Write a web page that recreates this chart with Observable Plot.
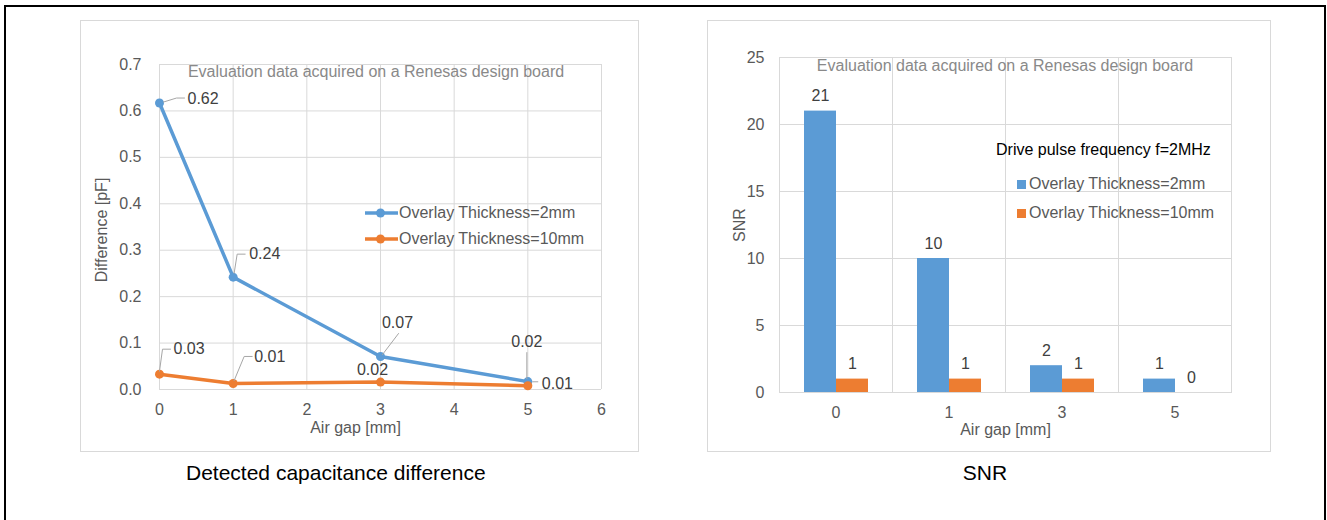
<!DOCTYPE html>
<html>
<head>
<meta charset="utf-8">
<script src="https://cdn.jsdelivr.net/npm/d3@7"></script>
<script src="https://cdn.jsdelivr.net/npm/@observablehq/plot@0.6"></script>
<style>
  html, body { margin: 0; padding: 0; background: #fff; }
  body { width: 1327px; height: 520px; position: relative; overflow: hidden;
         font-family: "Liberation Sans", Arial, sans-serif; }
  #outer { position: absolute; left: 4px; top: 5px; width: 1322px; height: 540px;
           border: 2px solid #000; box-sizing: border-box; }
  .panel { position: absolute; border: 1px solid #d9d9d9; box-sizing: border-box; }
  .panel svg { position: absolute; left: 0; top: 0; overflow: visible; }
  .ov { position: absolute; white-space: nowrap; font-size: 16px; line-height: 20px; }
  .caption { position: absolute; white-space: nowrap; font-size: 21px; line-height: 26px; color: #000; }
</style>
</head>
<body>
<div id="outer"></div>
<div class="panel" id="leftPanel" style="left:80px; top:20px; width:559px; height:432px;"></div>
<div class="panel" id="rightPanel" style="left:707px; top:20px; width:564px; height:432px;"></div>
<div class="caption" id="capLeft" style="left:186px; top:460px;">Detected capacitance difference</div>
<div class="caption" id="capRight" style="left:985px; top:460px; transform:translateX(-50%);">SNR</div>
<script>
// ---------------- data ----------------
const seriesNames = ["Overlay Thickness=2mm", "Overlay Thickness=10mm"];
const airGaps = [0, 1, 3, 5];                        // mm (line chart)
const diff2mm = [0.617, 0.242, 0.071, 0.017];        // pF
const diff10mm = [0.033, 0.013, 0.016, 0.008];       // pF
const diffTicksX = [0, 1, 2, 3, 4, 5, 6];
const diffTicksY = [0, 0.1, 0.2, 0.3, 0.4, 0.5, 0.6, 0.7];

const snrGaps = ["0", "1", "3", "5"];                // bar chart categories
const snr2mm = [21, 10, 2, 1];
const snr10mm = [1, 1, 1, 0];
const snrTicksY = [0, 5, 10, 15, 20, 25];

const noteText = "Evaluation data acquired on a Renesas design board";
const driveText = "Drive pulse frequency f=2MHz";
const diffXLabel = "Air gap [mm]";
const diffYLabel = "Difference [pF]";
const snrXLabel = "Air gap [mm]";
const snrYLabel = "SNR";

// ---------------- styling ----------------
const BLUE = "#5b9bd5", ORANGE = "#ed7d31";
const GRID = "#d9d9d9", TICK = "#595959", LABEL = "#404040", NOTE = "#898989", LEADER = "#a6a6a6";
const FONT = "'Liberation Sans', Arial, sans-serif";
const baseStyle = { fontFamily: FONT, fontSize: "16px", color: TICK, background: "transparent", overflow: "visible" };

// ---------------- line chart ----------------
const lineRows = [];
airGaps.forEach((g, i) => {
  lineRows.push({ gap: g, value: diff2mm[i], series: seriesNames[0], idx: i });
  lineRows.push({ gap: g, value: diff10mm[i], series: seriesNames[1], idx: i });
});
const fmt2 = d3.format(".2f");

// label placement (pixel offsets from each point) and leader polylines
const labelLayout = {
  [seriesNames[0]]: [
    { dx: 28, dy: -4, anchor: "start", leader: [[4, -1], [17, -5], [25, -5]] },
    { dx: 16, dy: -23, anchor: "start", leader: [[1, -4], [4, -23], [12, -23]] },
    { dx: 17, dy: -34, anchor: "middle", leader: [[2, -2], [18, -23]] },
    { dx: -1, dy: -40, anchor: "middle", leader: [[-1, -3], [-1, -29]] }
  ],
  [seriesNames[1]]: [
    { dx: 14, dy: -25, anchor: "start", leader: [[0, -3], [3, -25], [11, -25]] },
    { dx: 21, dy: -27, anchor: "start", leader: [[1, -3], [11, -27], [19, -27]] },
    { dx: -8, dy: -12, anchor: "middle", leader: null },
    { dx: 14, dy: -2, anchor: "start", leader: [[5, -4], [10, -4]] }
  ]
};

const labelMarks = [];
lineRows.forEach(d => {
  const L = labelLayout[d.series][d.idx];
  if (L.leader) {
    const pts = L.leader;
    labelMarks.push(Plot.vector([d], {
      x: "gap", y: "value", length: 1, rotate: 0, anchor: "start",
      stroke: LEADER, strokeWidth: 1, fill: "none",
      shape: { draw(ctx) { ctx.moveTo(pts[0][0], pts[0][1]); for (let k = 1; k < pts.length; k++) ctx.lineTo(pts[k][0], pts[k][1]); } }
    }));
  }
  labelMarks.push(Plot.text([d], {
    x: "gap", y: "value", text: r => fmt2(r.value), dx: L.dx, dy: L.dy,
    textAnchor: L.anchor, fill: LABEL, fontSize: 16
  }));
});

const leftChart = Plot.plot({
  width: 557, height: 430,
  marginLeft: 78, marginRight: 37, marginTop: 43, marginBottom: 62,
  style: baseStyle,
  x: { domain: [0, 6], label: null },
  y: { domain: [0, 0.7], label: null },
  color: { domain: seriesNames, range: [BLUE, ORANGE] },
  marks: [
    Plot.gridX(diffTicksX, { stroke: GRID, strokeOpacity: 1 }),
    Plot.gridY(diffTicksY, { stroke: GRID, strokeOpacity: 1 }),
    Plot.axisX(diffTicksX, { tickSize: 0, tickPadding: 14, label: null, fill: TICK }),
    Plot.axisY(diffTicksY, { tickSize: 0, tickPadding: 18, tickFormat: ".1f", label: null, fill: TICK }),
    Plot.line(lineRows, { x: "gap", y: "value", z: "series", stroke: "series", strokeWidth: 3.5 }),
    Plot.dot(lineRows, { x: "gap", y: "value", fill: "series", r: 4.5 }),
    ...labelMarks,
    Plot.text([noteText], { text: d => d, frameAnchor: "top", lineAnchor: "middle", textAnchor: "middle", dx: -4.5, dy: 7.7, fill: NOTE, fontSize: 16 }),
    Plot.text([diffYLabel], { text: d => d, frameAnchor: "left", lineAnchor: "middle", textAnchor: "middle", rotate: -90, dx: -58, dy: 3, fill: TICK, fontSize: 16 }),
    Plot.text([diffXLabel], { text: d => d, frameAnchor: "bottom", lineAnchor: "middle", textAnchor: "middle", dx: -25, dy: 38.7, fill: TICK, fontSize: 16 })
  ]
});
document.getElementById("leftPanel").appendChild(leftChart);

// legend (left)
function lineSwatch(color) {
  return `<svg width="33" height="10" style="position:absolute;left:0;top:5px;overflow:visible">
    <line x1="0" y1="5" x2="33" y2="5" stroke="${color}" stroke-width="3.5"/>
    <circle cx="15.5" cy="5" r="4.5" fill="${color}"/></svg>`;
}
const leftLegend = document.createElement("div");
leftLegend.innerHTML = seriesNames.map((n, i) =>
  `<div class="ov" style="left:${365 - 81}px; top:${203 - 21 + i * 26}px; color:${TICK}; padding-left:34px;">
     ${lineSwatch(i ? ORANGE : BLUE)}${n}</div>`).join("");
document.getElementById("leftPanel").appendChild(leftLegend);

// ---------------- bar chart ----------------
const barRows = [];
snrGaps.forEach((g, i) => {
  barRows.push({ gap: g, series: seriesNames[0], value: snr2mm[i] });
  barRows.push({ gap: g, series: seriesNames[1], value: snr10mm[i] });
});

const rightChart = Plot.plot({
  width: 562, height: 430,
  marginLeft: 70, marginRight: 38, marginTop: 36, marginBottom: 59,
  style: baseStyle,
  fx: { domain: snrGaps, padding: 0 },
  x: { domain: seriesNames, paddingInner: 0, paddingOuter: 0.757, axis: null },
  y: { domain: [0, 25] },
  color: { domain: seriesNames, range: [BLUE, ORANGE] },
  marks: [
    Plot.gridY(snrTicksY, { stroke: GRID, strokeOpacity: 1 }),
    Plot.frame({ stroke: GRID }),
    Plot.axisY(snrTicksY, { tickSize: 0, tickPadding: 15, label: snrYLabel, labelAnchor: "center", labelArrow: "none", labelOffset: 46, fill: TICK }),
    Plot.axisFx({ anchor: "bottom", tickSize: 0, tickPadding: 14, label: snrXLabel, labelAnchor: "center", labelArrow: "none", labelOffset: 42, fill: TICK }),
    Plot.barY(barRows, { fx: "gap", x: "series", y: "value", fill: "series" }),
    Plot.text(barRows, { fx: "gap", x: "series", y: "value", text: d => String(d.value), dy: -15, fill: LABEL, fontSize: 16 })
  ]
});
document.getElementById("rightPanel").appendChild(rightChart);

// overlays (right)
const rp = document.getElementById("rightPanel");
const ox = 708, oy = 21;
const rOver = document.createElement("div");
rOver.innerHTML =
  `<div class="ov" style="left:${1005 - ox}px; top:${66 - oy - 10}px; color:${NOTE}; transform:translateX(-50%);">${noteText}</div>
   <div class="ov" style="left:${996 - ox}px; top:${150 - oy - 10}px; color:#000;">${driveText}</div>` +
  seriesNames.map((n, i) =>
    `<div class="ov" style="left:${1017 - ox}px; top:${184 - oy - 10 + i * 29}px; color:${TICK}; padding-left:12px;">
       <span style="position:absolute;left:0;top:5.5px;width:9px;height:9px;background:${i ? ORANGE : BLUE}"></span>${n}</div>`).join("");
rp.appendChild(rOver);
</script>
</body>
</html>
